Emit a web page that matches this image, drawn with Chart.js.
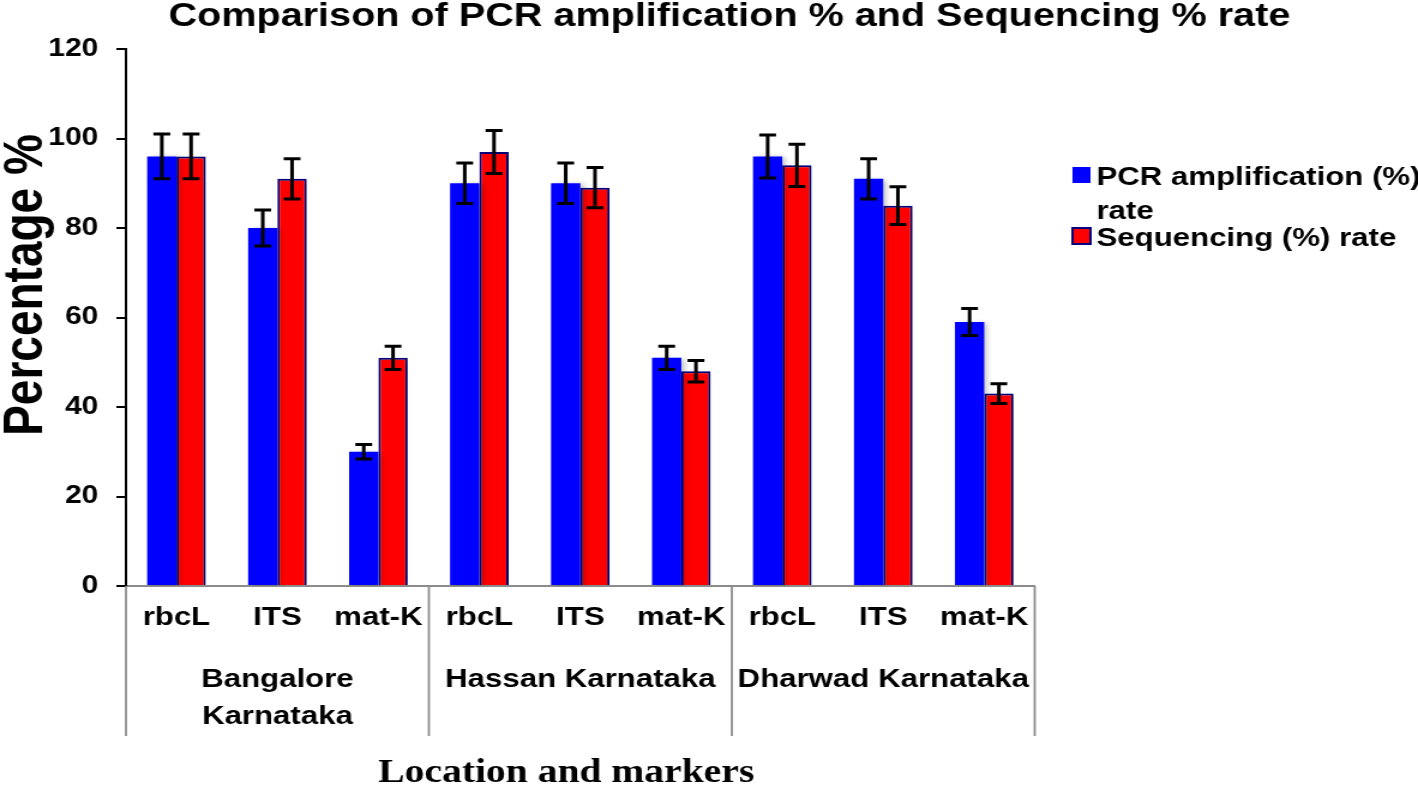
<!DOCTYPE html>
<html lang="en">
<head>
<meta charset="UTF-8">
<title>PCR amplification and sequencing rate</title>
<style>
  html, body { margin: 0; padding: 0; background: #fff; overflow: hidden; }
  /* the source figure is stretched sideways: draw it narrower, then widen */
  #wrap { width: 1182px; height: 794px; transform: scaleX(1.19966); transform-origin: 0 0; }
</style>
</head>
<body>
<div id="wrap"><canvas id="chart"></canvas></div>

<script src="https://cdn.jsdelivr.net/npm/chart.js"></script>
<script>
// data
const markers = ['rbcL', 'ITS', 'mat-K', 'rbcL', 'ITS', 'mat-K', 'rbcL', 'ITS', 'mat-K'];
const locations = [['Bangalore', 'Karnataka'], ['Hassan Karnataka'], ['Dharwad Karnataka']];
const pcrRate = [96, 80, 30, 90, 90, 51, 96, 91, 59];
const pcrErr  = [5, 4, 1.6, 4.5, 4.5, 2.6, 4.8, 4.5, 3];
const seqRate = [96, 91, 51, 97, 89, 48, 94, 85, 43];
const seqErr  = [5, 4.5, 2.6, 4.8, 4.5, 2.4, 4.7, 4.2, 2.2];
const seriesNames = [['PCR amplification (%)', 'rate'], ['Sequencing (%) rate']];

const SANS = '"Liberation Sans", Arial, sans-serif';
const SERIF = '"Liberation Serif", "Times New Roman", serif';

// soft grey drop shadow behind the bars
const barShadow = {
    id: 'barShadow',
    beforeDatasetsDraw(chart) {
        const c = chart.ctx;
        c.save();
        c.shadowColor = 'rgba(0,0,0,0.25)';
        c.shadowBlur = 5;
        c.shadowOffsetX = 3;
        c.shadowOffsetY = 1;
    },
    afterDatasetsDraw(chart) {
        chart.ctx.restore();
    }
};

// +/- error whiskers on every bar
const errorBars = {
    id: 'errorBars',
    afterDatasetsDraw(chart) {
        const ctx = chart.ctx;
        const y = chart.scales.y;
        chart.data.datasets.forEach((ds, i) => {
            chart.getDatasetMeta(i).data.forEach((bar, j) => {
                const top = y.getPixelForValue(ds.data[j] + ds.errors[j]);
                const bot = y.getPixelForValue(ds.data[j] - ds.errors[j]);
                ctx.save();
                ctx.strokeStyle = '#000';
                ctx.lineWidth = 3;
                ctx.beginPath();
                ctx.moveTo(bar.x, top); ctx.lineTo(bar.x, bot);
                ctx.moveTo(bar.x - 7, top); ctx.lineTo(bar.x + 7, top);
                ctx.moveTo(bar.x - 7, bot); ctx.lineTo(bar.x + 7, bot);
                ctx.stroke();
                ctx.restore();
            });
        });
    }
};

// titles, location groups and the legend
const frame = {
    id: 'frame',
    afterDraw(chart) {
        const ctx = chart.ctx;
        const x = chart.scales.x;
        const area = chart.chartArea;
        ctx.save();
        ctx.fillStyle = '#000';

        ctx.font = 'bold 33px ' + SANS;
        ctx.textAlign = 'center';
        ctx.textBaseline = 'alphabetic';
        ctx.fillText('Comparison of PCR amplification % and Sequencing % rate', 608, 26);

        ctx.font = 'bold 33px ' + SERIF;
        ctx.fillText('Location and markers', 472, 782);

        ctx.save();
        ctx.translate(35, 285);
        ctx.rotate(-Math.PI / 2);
        ctx.font = 'bold 46px ' + SANS;
        ctx.fillText('Percentage %', 0, 0);
        ctx.restore();

        // group separators + location names under the markers
        const per = markers.length / locations.length;
        const groupW = x.width / locations.length;
        ctx.strokeStyle = '#8c8c8c';
        ctx.lineWidth = 1.8;
        ctx.beginPath();
        for (let k = 0; k <= locations.length; k++) {
            const gx = x.left + k * groupW;
            ctx.moveTo(gx, area.bottom);
            ctx.lineTo(gx, 736);
        }
        ctx.stroke();
        ctx.font = 'bold 26px ' + SANS;
        locations.forEach((lines, k) => {
            const cx = (x.getPixelForValue(k * per) + x.getPixelForValue(k * per + per - 1)) / 2;
            lines.forEach((t, n) => ctx.fillText(t, cx, 687 + n * 37));
        });

        // legend
        ctx.textAlign = 'left';
        ctx.font = 'bold 26px ' + SANS;
        const ds = chart.data.datasets;
        ctx.fillStyle = ds[0].backgroundColor;
        ctx.fillRect(894, 167, 15, 16);
        ctx.fillStyle = ds[1].backgroundColor;
        ctx.fillRect(894, 228, 15, 16);
        ctx.strokeStyle = ds[1].borderColor;
        ctx.lineWidth = 2;
        ctx.strokeRect(894, 228, 15, 16);
        ctx.fillStyle = '#000';
        seriesNames[0].forEach((t, n) => ctx.fillText(t, 914, 185 + n * 34));
        seriesNames[1].forEach((t, n) => ctx.fillText(t, 914, 246 + n * 34));

        ctx.restore();
    }
};

new Chart(document.getElementById('chart'), {
    type: 'bar',
    data: {
        labels: markers,
        datasets: [{
            label: seriesNames[0].join(' '),
            data: pcrRate,
            errors: pcrErr,
            backgroundColor: '#0000ff',
            borderColor: '#0000a0',
            borderWidth: 0
        }, {
            label: seriesNames[1].join(' '),
            data: seqRate,
            errors: seqErr,
            backgroundColor: '#ff0000',
            borderColor: '#000080',
            borderWidth: 2
        }]
    },
    options: {
        responsive: true,
        maintainAspectRatio: false,
        animation: false,
        layout: { padding: { left: 0, right: 319.5, top: 49, bottom: 0 } },
        datasets: { bar: { categoryPercentage: 0.58, barPercentage: 1.0 } },
        plugins: {
            legend: { display: false },
            title: { display: false },
            tooltip: { enabled: false }
        },
        scales: {
            x: {
                grid: { display: false, drawTicks: false },
                border: { color: '#8c8c8c', width: 2 },
                ticks: {
                    color: '#000',
                    font: { family: SANS, size: 26, weight: 'bold' },
                    padding: 16,
                    maxRotation: 0,
                    autoSkip: false
                },
                afterFit(s) { s.height = 208; }
            },
            y: {
                min: 0,
                max: 120,
                ticks: {
                    stepSize: 20,
                    color: '#000',
                    font: { family: SANS, size: 25, weight: 'bold' },
                    padding: 15
                },
                grid: { drawOnChartArea: false, drawTicks: true, tickLength: 8, color: '#000', lineWidth: 2 },
                border: { color: '#000', width: 2 },
                afterFit(s) { s.width = 105; }
            }
        }
    },
    plugins: [barShadow, errorBars, frame]
});
</script>
</body>
</html>
